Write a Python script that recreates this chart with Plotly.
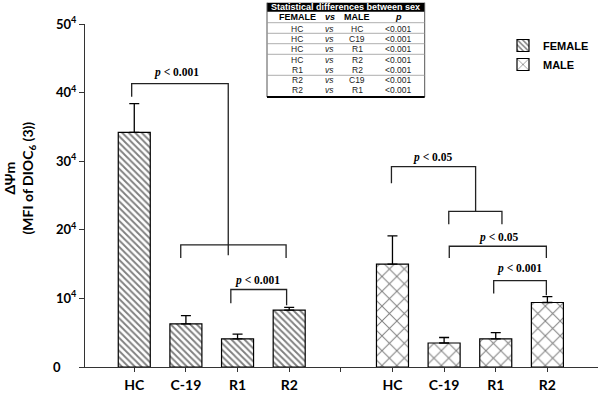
import plotly.graph_objects as go

# ---------------- data ----------------
categories = ["HC", "C-19", "R1", "R2"]
female_pos = [0, 1, 2, 3]
male_pos = [5, 6, 7, 8]
female_vals = [34.2, 6.3, 4.1, 8.3]
female_err = [4.2, 1.2, 0.7, 0.4]
male_vals = [15.0, 3.5, 4.1, 9.4]
male_err = [4.1, 0.8, 0.9, 0.85]

y_tickvals = [0, 10, 20, 30, 40, 50]
y_ticktext = ["0" + "\u00a0" * 5, "10<sup>4</sup>", "20<sup>4</sup>", "30<sup>4</sup>",
              "40<sup>4</sup>", "50<sup>4</sup>"]
x_tickvals = [0, 1, 2, 3, 4, 5, 6, 7, 8]
x_ticktext = ["HC", "C-19", "R1", "R2", " ", "HC", "C-19", "R1", "R2"]

# significance brackets: list of polylines (x, y in data units) and labels
bracket_lines = [
    # female
    ([-0.05, -0.05, 1.82, 1.82], [39.4, 41.3, 41.3, 16.3]),
    ([0.90, 0.90, 2.94, 2.94], [15.9, 17.8, 17.8, 15.9]),
    ([1.87, 1.87, 2.95, 2.95], [9.3, 11.3, 11.3, 9.0]),
    # male
    ([4.98, 4.98, 6.61, 6.61], [26.8, 29.2, 29.2, 22.7]),
    ([6.09, 6.09, 7.12, 7.12], [20.8, 22.7, 22.7, 20.8]),
    ([6.10, 6.10, 7.98, 7.98], [15.9, 17.6, 17.6, 15.9]),
    ([6.96, 6.96, 7.98, 7.98], [10.7, 12.6, 12.6, 10.45]),
]
bracket_labels = [
    (0.81, 42.9, "0.001"),
    (2.39, 12.6, "0.001"),
    (5.77, 30.6, "0.05"),
    (7.05, 18.95, "0.05"),
    (7.46, 14.3, "0.001"),
]

table_title = "Statistical differences between sex"
table_header = ["FEMALE", "vs", "MALE", "p"]
table_female = ["HC", "HC", "HC", "HC", "R1", "R2", "R2"]
table_male = ["HC", "C19", "R1", "R2", "R2", "C19", "R1"]
table_p = ["<0.001"] * 7

# ---------------- layout helpers ----------------
W, H = 600, 394
ML, MR, MT, MB = 85, 2, 24, 27
PW = W - ML - MR
PH = H - MT - MB


def xp(px):
    return (px - ML) / PW


def yp(py):
    return (H - MB - py) / PH


fig = go.Figure()

fig.add_trace(go.Bar(
    x=female_pos, y=female_vals, name="FEMALE", width=0.62,
    marker=dict(color="white", line=dict(color="black", width=1.2),
                pattern=dict(shape="\\", size=4.6, solidity=0.4,
                             fgcolor="black", bgcolor="white")),
    error_y=dict(type="data", symmetric=False, array=female_err,
                 arrayminus=[0] * 4, color="black", thickness=1.3, width=5),
))
fig.add_trace(go.Bar(
    x=male_pos, y=male_vals, name="MALE", width=0.62,
    marker=dict(color="white", line=dict(color="black", width=1.2),
                pattern=dict(shape="x", size=10.5, solidity=0.18,
                             fgcolor="black", bgcolor="white")),
    error_y=dict(type="data", symmetric=False, array=male_err,
                 arrayminus=[0] * 4, color="black", thickness=1.3, width=5),
))

shapes = []
for xs, ys in bracket_lines:
    d = "M" + " L".join(f"{x},{y}" for x, y in zip(xs, ys))
    shapes.append(dict(type="path", path=d, xref="x", yref="y",
                       line=dict(color="#222", width=1.3)))

annotations = []
for x, y, v in bracket_labels:
    annotations.append(dict(x=x, y=y, xref="x", yref="y", showarrow=False,
                            xanchor="center", yanchor="middle",
                            text=f"<b><i>p</i> &lt; {v}</b>",
                            font=dict(family="Liberation Serif", size=11.5, color="black")))

# y axis title
annotations.append(dict(x=xp(18.5), y=yp(178), xref="paper", yref="paper", showarrow=False,
                        textangle=-90, xanchor="center", yanchor="middle",
                        text="<b>ΔΨm</b><br><b>(MFI of DIOC<sub>6</sub> (3))</b>",
                        font=dict(family="Lato", size=14, color="black")))

# ---------------- table ----------------
tl, tr, tt, tb = 267, 424.7, 2.7, 97
shapes.append(dict(type="rect", xref="paper", yref="paper",
                   x0=xp(tl), x1=xp(tr), y0=yp(11.7), y1=yp(tt),
                   fillcolor="black", line=dict(width=0)))
shapes.append(dict(type="line", xref="paper", yref="paper",
                   x0=xp(tl), x1=xp(tl), y0=yp(tt), y1=yp(tb), line=dict(color="#555", width=1)))
shapes.append(dict(type="line", xref="paper", yref="paper",
                   x0=xp(tr), x1=xp(tr), y0=yp(tt), y1=yp(tb), line=dict(color="#555", width=1)))
shapes.append(dict(type="line", xref="paper", yref="paper",
                   x0=xp(tl), x1=xp(tr), y0=yp(tb), y1=yp(tb), line=dict(color="black", width=2)))
for ly in [22.7, 33.3, 43.7, 54.3, 75.3]:
    shapes.append(dict(type="line", xref="paper", yref="paper",
                       x0=xp(tl), x1=xp(tr), y0=yp(ly), y1=yp(ly), line=dict(color="#999", width=0.8)))

annotations.append(dict(x=xp((tl + tr) / 2), y=yp(7.3), xref="paper", yref="paper",
                        showarrow=False, xanchor="center", yanchor="middle",
                        text=f"<b>{table_title}</b>",
                        font=dict(family="Liberation Sans", size=9, color="white")))
col_x = [297, 329.7, 357, 398.7]
hdr_txt = [f"<b>{table_header[0]}</b>", f"<b><i>{table_header[1]}</i></b>",
           f"<b>{table_header[2]}</b>", f"<b><i>{table_header[3]}</i></b>"]
for cx, t in zip(col_x, hdr_txt):
    annotations.append(dict(x=xp(cx), y=yp(17.3), xref="paper", yref="paper",
                            showarrow=False, xanchor="center", yanchor="middle", text=t,
                            font=dict(family="Liberation Sans", size=9, color="black")))
row_y = [29.3, 39.3, 49.5, 60, 70, 80, 90]
for ry, f, m, p in zip(row_y, table_female, table_male, table_p):
    cells = [f, "<i>vs</i>", m, p.replace("<", "&lt;")]
    for cx, t in zip(col_x, cells):
        annotations.append(dict(x=xp(cx), y=yp(ry), xref="paper", yref="paper",
                                showarrow=False, xanchor="center", yanchor="middle", text=t,
                                font=dict(family="Liberation Sans", size=8.5, color="#222")))

fig.update_layout(
    width=W, height=H,
    margin=dict(l=ML, r=MR, t=MT, b=MB, pad=0, autoexpand=False),
    plot_bgcolor="white", paper_bgcolor="white",
    barmode="overlay",
    shapes=shapes, annotations=annotations,
    showlegend=True,
    legend=dict(x=xp(503), y=yp(31), xanchor="left", yanchor="top",
                bgcolor="rgba(0,0,0,0)",
                font=dict(family="Liberation Sans", size=11, color="black", weight="bold"),
                itemwidth=30, tracegroupgap=0),
    xaxis=dict(range=[-0.954, 8.98], tickvals=x_tickvals, ticktext=x_ticktext,
               automargin=False,
               showline=True, linecolor="#333", linewidth=1, ticks="outside", ticklen=4,
               tickcolor="#333", showgrid=False, zeroline=False, ticklabelstandoff=1,
               tickfont=dict(family="Lato", size=14, color="black", weight="bold")),
    yaxis=dict(range=[0, 50], tickvals=y_tickvals, ticktext=y_ticktext,
               automargin=False,
               showline=True, linecolor="#333", linewidth=1, ticks="outside", ticklen=5,
               tickcolor="#333", showgrid=False, zeroline=False,
               tickfont=dict(family="Lato", size=13, color="black", weight="bold")),
)

fig.write_html("out.html", config={"displayModeBar": False},
               post_script="document.body.style.margin='0';document.body.style.overflow='hidden';")
